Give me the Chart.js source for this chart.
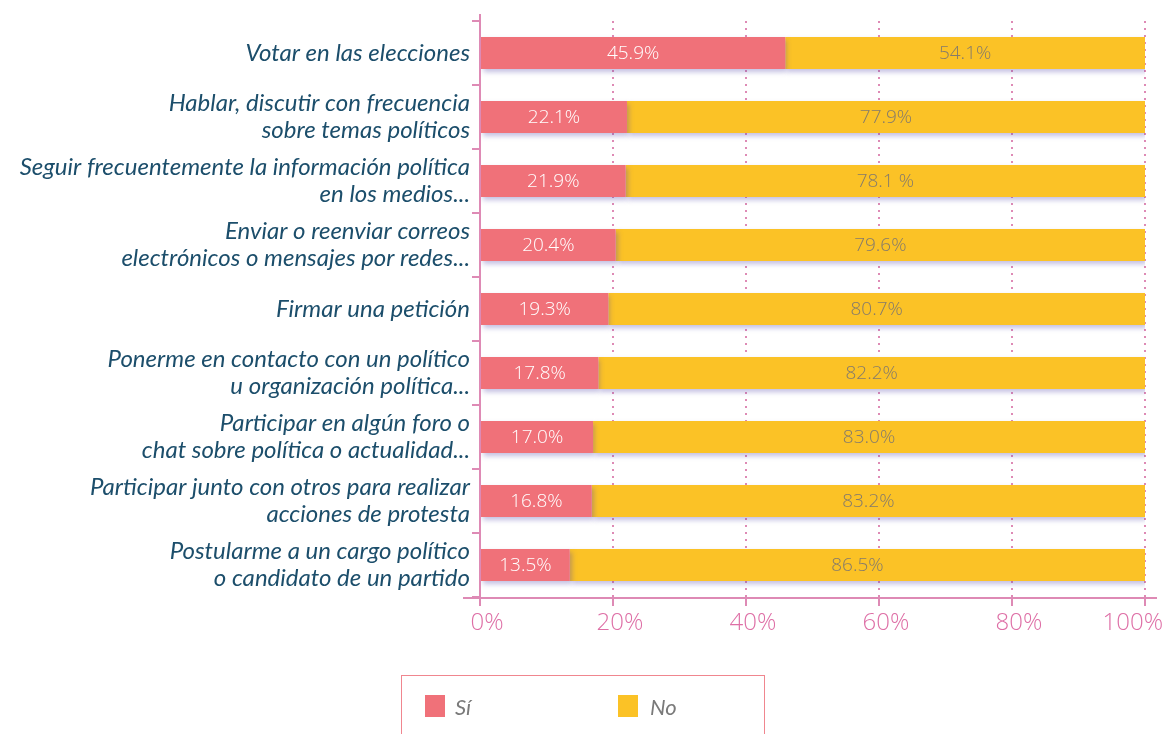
<!DOCTYPE html>
<html>
<head>
<meta charset="utf-8">
<script src="https://cdn.jsdelivr.net/npm/chart.js@4/dist/chart.umd.min.js"></script>
<style>
  html, body { margin: 0; padding: 0; background: #fff; }
  #wrap { position: relative; width: 1166px; height: 734px; overflow: hidden; }
  #legend {
    position: absolute; left: 401px; top: 675px; width: 364px; height: 90px;
    border: 1.5px solid #F0868F; box-sizing: border-box;
    font-family: Lato, "Open Sans", sans-serif; font-style: italic; font-size: 22px; color: #7a7a7a;
  }
  #legend span.box { position: absolute; top: 19px; width: 20px; height: 22px; }
  #legend span.txt { position: absolute; top: 17px; }
</style>
</head>
<body>
<div id="wrap">
  <canvas id="chart" width="1166" height="734"></canvas>
  <div id="legend">
    <span class="box" style="left:23px;background:#F07179"></span><span class="txt" style="left:53px">Sí</span>
    <span class="box" style="left:216px;background:#FBC226"></span><span class="txt" style="left:248px">No</span>
  </div>
</div>
<script>
// categorías (de arriba a abajo)
const categories = [
    ['Votar en las elecciones'],
    ['Hablar, discutir con frecuencia', 'sobre temas políticos'],
    ['Seguir frecuentemente la información política', 'en los medios...'],
    ['Enviar o reenviar correos', 'electrónicos o mensajes por redes...'],
    ['Firmar una petición'],
    ['Ponerme en contacto con un político', 'u organización política...'],
    ['Participar en algún foro o', 'chat sobre política o actualidad...'],
    ['Participar junto con otros para realizar', 'acciones de protesta'],
    ['Postularme a un cargo político', 'o candidato de un partido']
];
const siValues = [45.9, 22.1, 21.9, 20.4, 19.3, 17.8, 17.0, 16.8, 13.5];
const noValues = [54.1, 77.9, 78.1, 79.6, 80.7, 82.2, 83.0, 83.2, 86.5];
const siLabels = ['45.9%', '22.1%', '21.9%', '20.4%', '19.3%', '17.8%', '17.0%', '16.8%', '13.5%'];
const noLabels = ['54.1%', '77.9%', '78.1 %', '79.6%', '80.7%', '82.2%', '83.0%', '83.2%', '86.5%'];
const xTicks = [0, 20, 40, 60, 80, 100];

const pink = '#F07179';
const yellow = '#FBC226';
const axisPink = '#DE8AB5';

// sombra suave bajo las barras
const barShadow = {
    id: 'barShadow',
    beforeDatasetsDraw(chart) {
        const ctx = chart.ctx;
        ctx.save();
        ctx.shadowColor = 'rgba(80, 70, 170, 0.35)';
        ctx.shadowBlur = 5;
        ctx.shadowOffsetX = 2;
        ctx.shadowOffsetY = 3;
    },
    afterDatasetsDraw(chart) {
        chart.ctx.restore();
    }
};

// etiquetas de valores dentro de las barras
const barLabels = {
    id: 'barLabels',
    afterDatasetsDraw(chart) {
        const ctx = chart.ctx;
        const sets = [[siLabels, '#ffffff'], [noLabels, '#857b6b']];
        ctx.save();
        ctx.font = '300 19px "Open Sans", Lato, sans-serif';
        ctx.textAlign = 'center';
        ctx.textBaseline = 'middle';
        sets.forEach(([labels, color], i) => {
            ctx.fillStyle = color;
            chart.getDatasetMeta(i).data.forEach((bar, j) => {
                ctx.fillText(labels[j], (bar.x + bar.base) / 2, bar.y + 1);
            });
        });
        ctx.restore();
    }
};

// líneas de ejes y etiquetas del eje x (la última queda dentro del lienzo)
const axisExtend = {
    id: 'axisExtend',
    afterDraw(chart) {
        const ctx = chart.ctx;
        const a = chart.chartArea;
        const xs = chart.scales.x;
        ctx.save();
        ctx.strokeStyle = axisPink;
        ctx.lineWidth = 2;
        ctx.beginPath();
        ctx.moveTo(a.left - 17, a.bottom + 1);
        ctx.lineTo(a.right + 12, a.bottom + 1);
        ctx.stroke();
        ctx.beginPath();
        ctx.moveTo(a.left, a.top - 7);
        ctx.lineTo(a.left, a.bottom + 8);
        ctx.stroke();

        ctx.fillStyle = '#DE6FA6';
        ctx.font = '300 24px "Open Sans", Lato, sans-serif';
        ctx.textBaseline = 'middle';
        xTicks.forEach((v, i) => {
            const px = xs.getPixelForValue(v);
            if (i === xTicks.length - 1) {
                ctx.textAlign = 'right';
                ctx.fillText(v + '%', px + 18, a.bottom + 26);
            } else {
                ctx.textAlign = 'center';
                ctx.fillText(v + '%', px + 7, a.bottom + 26);
            }
        });
        ctx.restore();
    }
};

new Chart(document.getElementById('chart'), {
    type: 'bar',
    data: {
        labels: categories,
        datasets: [
            { label: 'Sí', data: siValues, backgroundColor: pink, barPercentage: 0.5, categoryPercentage: 1 },
            { label: 'No', data: noValues, backgroundColor: yellow, barPercentage: 0.5, categoryPercentage: 1 }
        ]
    },
    options: {
        indexAxis: 'y',
        responsive: false,
        animation: false,
        devicePixelRatio: 1,
        layout: { padding: { top: 21, right: 21, bottom: 87, left: 0 } },
        plugins: { legend: { display: false }, tooltip: { enabled: false } },
        scales: {
            x: {
                stacked: true,
                min: 0,
                max: 100,
                afterBuildTicks(scale) { scale.ticks = xTicks.map(v => ({ value: v })); },
                afterFit(scale) {
                    scale.height = 50;
                    scale.paddingLeft = 0;
                    scale.paddingRight = 0;
                },
                grid: {
                    color: axisPink,
                    lineWidth: 2,
                    tickLength: 9,
                    tickBorderDash: [],
                    tickWidth: 2
                },
                border: { display: false, dash: [2, 5] },
                ticks: { display: false }
            },
            y: {
                stacked: true,
                afterFit(scale) {
                    scale.width = 480;
                    scale.paddingTop = 0;
                    scale.paddingBottom = 0;
                },
                grid: {
                    offset: true,
                    drawOnChartArea: false,
                    color: axisPink,
                    lineWidth: 2,
                    tickLength: 8
                },
                border: { display: false },
                ticks: {
                    color: '#1C4E6B',
                    padding: 2,
                    font: { family: 'Lato, "Open Sans", sans-serif', size: 24, style: 'italic', lineHeight: 1.12 }
                }
            }
        }
    },
    plugins: [barShadow, barLabels, axisExtend]
});
</script>
</body>
</html>
